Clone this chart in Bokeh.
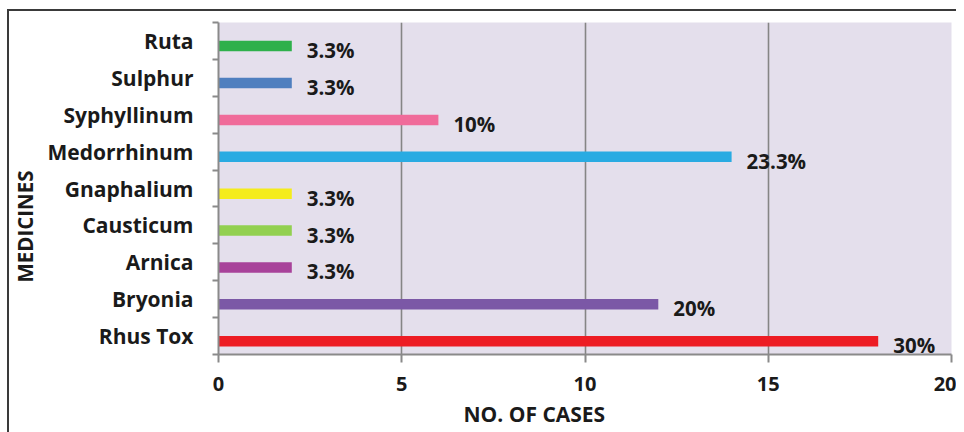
from bokeh.plotting import figure
from bokeh.models import ColumnDataSource, FixedTicker, LinearAxis, Range1d, Grid, Title
from bokeh.transform import dodge
from bokeh.core.properties import value
from bokeh.embed import file_html
from bokeh.resources import INLINE

# Data (bottom to top)
medicines = ["Rhus Tox", "Bryonia", "Arnica", "Causticum", "Gnaphalium",
             "Medorrhinum", "Syphyllinum", "Sulphur", "Ruta"]
cases = [18, 12, 2, 2, 2, 14, 6, 2, 2]
percent_labels = ["30%", "20%", "3.3%", "3.3%", "3.3%", "23.3%", "10%", "3.3%", "3.3%"]
colors = ["#ED1C24", "#7B58A6", "#A8429A", "#92D050", "#F4EC1C",
          "#29ABE2", "#F06B9A", "#4F7FBF", "#2EB04B"]
x_ticks = [0, 5, 10, 15, 20]

centers = [i + 0.5 for i in range(len(medicines))]
bounds = [i for i in range(len(medicines) + 1)]

src = ColumnDataSource(dict(y=centers, cases=cases, lab=percent_labels, color=colors))

FONT = "Open Sans"
TXT = "#1a1a1a"

p = figure(width=956, height=432, output_backend="svg", toolbar_location=None,
           x_range=Range1d(0, 20), y_range=Range1d(0, len(medicines)),
           min_border_left=218, min_border_right=5, min_border_top=22, min_border_bottom=77,
           y_axis_type=None, x_axis_type=None)
p.background_fill_color = "#E4DFEC"
p.border_fill_color = None
p.outline_line_color = None
p.styles = {
    "background-image": "linear-gradient(#3a3a3a, #3a3a3a), linear-gradient(#3a3a3a, #3a3a3a)",
    "background-size": "2px 100%, 100% 2px",
    "background-position": "7px 9px, 7px 9px",
    "background-repeat": "no-repeat",
}

xaxis = LinearAxis(ticker=FixedTicker(ticks=x_ticks))
xaxis.axis_line_color = "#8a8a8a"
xaxis.axis_line_width = 2
xaxis.major_tick_line_color = "#8a8a8a"
xaxis.major_tick_line_width = 2
xaxis.major_tick_out = 8
xaxis.major_tick_in = 0
xaxis.minor_tick_line_color = None
xaxis.major_label_text_font = FONT
xaxis.major_label_text_font_style = "bold"
xaxis.major_label_text_font_size = "20px"
xaxis.major_label_text_color = TXT
xaxis.major_label_standoff = 14
p.add_layout(xaxis, "below")

yaxis = LinearAxis(ticker=FixedTicker(ticks=centers, minor_ticks=bounds))
yaxis.axis_line_color = "#8a8a8a"
yaxis.axis_line_width = 2
yaxis.major_tick_line_color = None
yaxis.minor_tick_line_color = "#8a8a8a"
yaxis.minor_tick_line_width = 2
yaxis.minor_tick_out = 6
yaxis.minor_tick_in = 0
yaxis.major_tick_out = 0
yaxis.major_tick_in = 0
yaxis.major_label_overrides = {c: m for c, m in zip(centers, medicines)}
yaxis.major_label_text_font = FONT
yaxis.major_label_text_font_style = "bold"
yaxis.major_label_text_font_size = "21px"
yaxis.major_label_text_color = TXT
yaxis.major_label_standoff = 19
p.add_layout(yaxis, "left")

p.xgrid.visible = False
p.ygrid.visible = False
g = Grid(dimension=0, ticker=FixedTicker(ticks=x_ticks[1:]))
g.grid_line_color = "#858585"
g.grid_line_width = 1.6
p.add_layout(g)

p.hbar(y=dodge("y", -0.14), height=0.285, left=0, right="cases", color="color",
       line_color=None, source=src)
p.text(x="cases", y=dodge("y", -0.14), text="lab", x_offset=15, y_offset=4,
       text_font=value(FONT), text_font_style="bold", text_font_size="20.5px",
       text_baseline="middle", text_align="left", text_color=TXT, source=src)

p.add_layout(Title(text="NO. OF CASES", align="left", offset=245, standoff=9,
                   text_font=FONT, text_font_style="bold", text_font_size="21px",
                   text_color=TXT), "below")
p.add_layout(Title(text="MEDICINES", align="left", offset=72, standoff=11,
                   text_font=FONT, text_font_style="bold", text_font_size="20.5px",
                   text_color=TXT), "left")

open("out.html", "w").write(file_html(p, INLINE))
